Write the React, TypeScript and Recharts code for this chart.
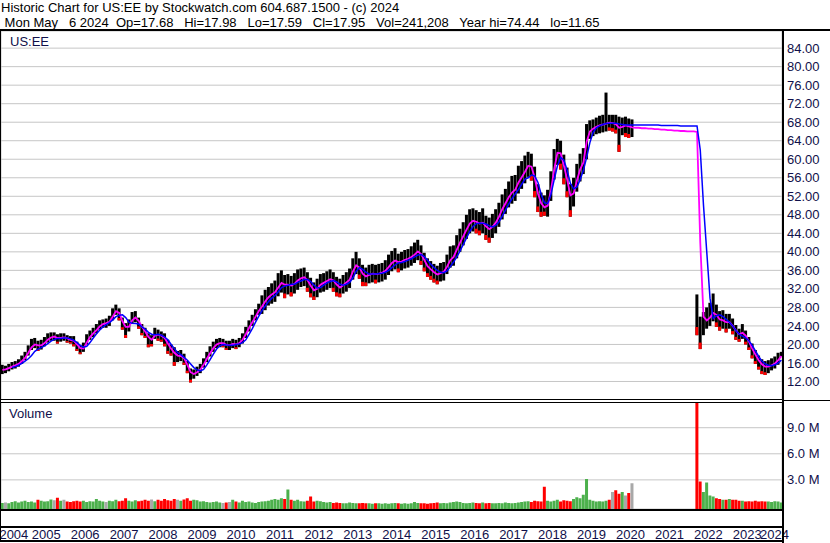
import React from 'react'
import { ComposedChart, Bar, Line, XAxis, YAxis, CartesianGrid, Cell } from 'recharts'

const FONT = '"Liberation Sans", Arial, Helvetica, sans-serif'
const INK = '#10104a'
const GRID = '#c6c6c6'

// monthly bars, first row starts May 2004, one row per calendar year
// (no trading from Aug 2020 to Feb 2022)
const START_YEAR = 2004
const START_MONTH = 5

const high: (number | null)[][] = [
  [15.6, 15.4, 15.8, 16.2, 16.4, 16.8, 17.6, 18.4],
  [19.8, 21.2, 21.4, 20.8, 21.0, 21.6, 22.4, 22.6, 22.6, 22.2, 22.4, 22.4],
  [22.0, 21.8, 21.8, 20.6, 19.8, 20.4, 22.2, 23.0, 23.6, 24.4, 25.2, 25.4],
  [25.6, 26.2, 27.8, 28.6, 27.8, 25.8, 24.6, 25.4, 27.0, 27.2, 25.8, 24.4],
  [23.6, 22.4, 22.0, 23.6, 23.2, 22.8, 22.4, 21.0, 20.0, 19.4, 18.6, 18.8],
  [18.0, 16.4, 14.8, 14.6, 15.2, 15.8, 17.0, 18.4, 19.6, 20.6, 21.2, 21.4],
  [21.2, 20.8, 20.8, 21.2, 21.0, 21.4, 22.4, 23.8, 25.2, 26.4, 27.6, 28.8],
  [30.6, 31.8, 32.4, 33.2, 33.8, 35.4, 36.0, 35.0, 35.2, 34.8, 35.4, 36.2],
  [36.4, 36.6, 35.6, 34.4, 33.4, 34.2, 35.2, 35.4, 35.8, 36.2, 35.6, 34.6],
  [34.2, 35.0, 35.6, 36.4, 38.6, 40.0, 38.6, 37.2, 36.6, 37.2, 37.4, 37.2],
  [37.4, 37.6, 38.2, 39.4, 40.2, 40.8, 39.6, 40.0, 40.4, 40.6, 41.2, 42.0],
  [42.6, 41.4, 39.8, 38.6, 38.0, 37.4, 37.0, 37.6, 37.8, 39.4, 41.2, 41.4],
  [43.6, 45.0, 46.4, 48.0, 49.2, 49.4, 49.0, 48.6, 49.4, 47.8, 47.4, 48.2],
  [49.2, 50.6, 52.4, 53.6, 55.2, 56.4, 56.6, 58.6, 59.6, 60.8, 61.6, 61.2],
  [58.4, 54.6, 52.8, 52.2, 53.4, 57.4, 62.2, 64.4, 64.0, 61.0, 58.2, 54.6],
  [56.0, 59.0, 61.2, 62.4, 67.6, 68.4, 68.6, 69.0, 69.4, 69.6, 74.4, 69.6],
  [69.6, 69.6, 69.2, 69.0, 69.2, 68.8, 68.6, null, null, null, null, null],
  [null, null, null, null, null, null, null, null, null, null, null, null],
  [null, null, 30.8, 26.0, 27.0, 28.0, 29.0, 31.0, 28.6, 27.2, 27.4, 26.6],
  [26.6, 25.6, 24.2, 23.4, 24.4, 23.0, 21.6, 20.2, 18.8, 17.6, 16.8, 16.4],
  [16.6, 17.0, 17.4, 18.2, 18.4],
]

const low: (number | null)[][] = [
  [13.6, 13.8, 14.2, 14.6, 14.8, 15.2, 15.8, 16.6],
  [17.6, 18.8, 19.2, 18.6, 18.9, 19.6, 20.4, 20.8, 20.8, 20.2, 20.6, 20.8],
  [20.4, 20.2, 19.6, 18.6, 17.9, 18.4, 20.0, 21.0, 21.6, 22.4, 23.2, 23.6],
  [23.6, 24.0, 25.2, 26.4, 25.2, 23.2, 21.4, 22.8, 24.4, 24.8, 23.4, 22.0],
  [21.4, 19.4, 19.6, 21.2, 20.8, 20.6, 19.6, 18.0, 17.6, 15.4, 16.2, 16.4],
  [15.6, 13.8, 11.8, 12.6, 13.2, 13.8, 15.0, 16.2, 17.4, 18.4, 19.2, 19.4],
  [19.4, 18.8, 18.8, 19.2, 19.0, 19.4, 20.2, 21.4, 22.8, 24.0, 25.2, 26.4],
  [26.6, 27.4, 28.4, 28.8, 29.2, 30.4, 31.2, 30.0, 30.8, 30.4, 31.0, 31.8],
  [32.4, 32.6, 31.4, 30.2, 29.6, 30.2, 31.2, 31.4, 31.8, 32.2, 31.4, 30.4],
  [30.2, 31.0, 31.4, 32.2, 34.0, 35.2, 34.2, 32.6, 32.6, 33.2, 33.4, 33.2],
  [33.4, 33.6, 34.0, 35.0, 35.8, 36.2, 35.6, 36.0, 36.4, 36.6, 37.0, 37.6],
  [38.2, 37.2, 35.8, 34.6, 34.0, 33.4, 33.0, 33.6, 33.8, 35.2, 36.6, 37.0],
  [38.6, 40.0, 41.4, 42.8, 44.0, 44.4, 44.0, 43.6, 44.0, 42.6, 42.0, 43.0],
  [44.0, 45.4, 47.0, 48.2, 49.6, 50.4, 51.0, 52.6, 53.6, 54.8, 56.2, 55.4],
  [51.8, 48.6, 47.6, 47.8, 47.6, 51.0, 55.6, 58.8, 57.8, 54.6, 51.8, 47.6],
  [49.8, 53.0, 55.2, 56.8, 60.0, 64.4, 65.0, 65.4, 65.6, 65.8, 66.0, 66.2],
  [66.0, 65.6, 61.6, 65.2, 64.8, 64.6, 64.8, null, null, null, null, null],
  [null, null, null, null, null, null, null, null, null, null, null, null],
  [null, null, 22.0, 19.0, 22.0, 23.4, 24.0, 25.0, 23.8, 23.0, 23.4, 22.6],
  [23.4, 22.2, 21.0, 20.6, 21.2, 20.0, 18.8, 17.0, 15.8, 14.6, 13.6, 13.4],
  [13.8, 14.4, 14.8, 15.6, 17.4],
]

// short moving average (magenta)
const maFast: (number | null)[][] = [
  [14.5, 14.6, 14.9, 15.2, 15.5, 15.8, 16.4, 17.1],
  [18.2, 19.4, 20.0, 19.8, 19.8, 20.3, 21.0, 21.5, 21.7, 21.4, 21.4, 21.5],
  [21.3, 21.0, 20.8, 20.0, 19.2, 19.1, 20.4, 21.6, 22.4, 23.1, 23.9, 24.4],
  [24.6, 24.9, 26.0, 27.2, 26.8, 25.0, 23.8, 23.8, 25.2, 25.8, 25.1, 23.8],
  [22.8, 21.6, 21.0, 21.9, 22.1, 21.9, 21.4, 20.2, 19.1, 18.2, 17.6, 17.5],
  [17.0, 15.6, 14.0, 13.6, 14.0, 14.6, 15.6, 16.9, 18.1, 19.2, 20.0, 20.3],
  [20.3, 19.9, 19.8, 20.1, 20.0, 20.3, 21.0, 22.2, 23.6, 24.8, 26.0, 27.2],
  [28.2, 29.3, 30.2, 30.8, 31.3, 32.3, 33.3, 32.9, 32.9, 32.7, 33.1, 33.8],
  [34.3, 34.5, 33.9, 32.7, 31.7, 32.0, 32.9, 33.3, 33.7, 34.1, 33.8, 32.9],
  [32.3, 32.8, 33.4, 34.0, 35.8, 37.1, 36.6, 35.3, 34.7, 35.0, 35.3, 35.2],
  [35.3, 35.5, 35.9, 36.7, 37.6, 38.1, 37.8, 37.9, 38.3, 38.5, 38.9, 39.4],
  [40.1, 39.5, 38.2, 36.9, 36.2, 35.6, 35.1, 35.4, 35.7, 36.8, 38.2, 38.9],
  [40.5, 42.0, 43.4, 44.8, 46.1, 46.7, 46.5, 46.1, 46.3, 45.5, 44.9, 45.4],
  [46.3, 47.6, 49.2, 50.5, 51.8, 52.8, 53.4, 55.0, 56.1, 57.3, 58.6, 58.4],
  [56.0, 52.6, 50.5, 49.6, 50.0, 53.2, 57.8, 61.4, 61.3, 58.6, 55.6, 52.2],
  [52.6, 55.4, 57.8, 59.3, 63.8, 66.0, 66.6, 67.0, 67.3, 67.5, 67.7, 67.9],
  [67.8, 67.6, 66.8, 67.0, 67.3, 67.1, 66.9, 66.8, 66.8, 66.7, 66.7, 66.6],
  [66.6, 66.5, 66.5, 66.4, 66.4, 66.3, 66.3, 66.2, 66.2, 66.1, 66.1, 66.0],
  [66.0, 66.0, 65.9, 42.0, 26.0, 25.2, 25.8, 26.8, 26.4, 25.4, 25.2, 24.8],
  [24.8, 24.0, 23.0, 22.2, 22.5, 21.9, 20.6, 19.1, 17.8, 16.6, 15.7, 15.2],
  [15.2, 15.5, 15.9, 16.6, 17.5],
]

// long moving average (blue)
const maSlow: (number | null)[][] = [
  [null, null, null, 15.0, 15.2, 15.5, 15.9, 16.4],
  [16.9, 17.6, 18.5, 19.0, 19.3, 19.7, 20.2, 20.7, 21.1, 21.3, 21.3, 21.4],
  [21.4, 21.2, 20.9, 20.4, 19.8, 19.4, 19.6, 20.4, 21.4, 22.3, 23.1, 23.8],
  [24.3, 24.7, 25.3, 26.0, 26.3, 26.4, 25.8, 24.8, 24.6, 24.5, 24.4, 23.8],
  [23.3, 22.6, 22.2, 22.1, 22.2, 22.0, 21.6, 21.0, 20.0, 19.1, 18.2, 17.8],
  [17.2, 16.6, 15.8, 15.0, 14.5, 14.3, 14.6, 15.6, 16.7, 17.9, 19.0, 19.7],
  [20.0, 19.9, 19.8, 19.8, 20.0, 20.1, 20.4, 21.0, 22.2, 23.4, 24.8, 26.1],
  [27.3, 28.3, 29.3, 30.0, 30.6, 31.4, 32.3, 32.6, 32.8, 33.0, 33.0, 33.4],
  [33.7, 34.0, 34.0, 33.6, 32.8, 32.2, 32.3, 32.8, 33.3, 33.6, 33.8, 33.5],
  [33.0, 32.8, 33.0, 33.4, 34.4, 35.8, 36.6, 36.2, 35.6, 35.2, 35.2, 35.2],
  [35.3, 35.4, 35.6, 36.0, 36.6, 37.2, 37.6, 37.7, 37.9, 38.2, 38.5, 38.9],
  [39.3, 39.4, 39.0, 38.2, 37.3, 36.6, 36.0, 35.6, 35.5, 35.9, 36.8, 37.8],
  [38.9, 40.2, 41.6, 43.0, 44.4, 45.5, 46.1, 46.2, 46.2, 46.0, 45.6, 45.4],
  [45.7, 46.5, 47.7, 49.0, 50.3, 51.5, 52.5, 53.5, 54.6, 55.7, 56.0, 56.6],
  [56.4, 55.0, 52.4, 50.6, 50.4, 52.4, 55.6, 58.6, 60.4, 59.8, 57.6, 54.8],
  [53.6, 54.0, 55.6, 57.6, 60.4, 63.6, 65.8, 66.8, 67.2, 67.5, 67.7, 67.8],
  [67.8, 67.8, 67.6, 67.5, 67.4, 67.4, 67.4, 67.4, 67.4, 67.4, 67.4, 67.4],
  [67.4, 67.4, 67.4, 67.3, 67.3, 67.3, 67.3, 67.3, 67.3, 67.2, 67.2, 67.2],
  [67.2, 67.2, 67.2, 62.0, 50.0, 40.0, 30.0, 25.6, 26.2, 26.4, 26.0, 25.4],
  [24.8, 24.0, 23.0, 22.2, 21.8, 21.4, 20.8, 19.8, 18.6, 17.4, 16.4, 15.8],
  [15.5, 15.4, 15.6, 16.0, 16.6],
]

// volume, millions of shares
const volume: (number | null)[][] = [
  [0.35, 0.4, 0.3, 0.45, 0.55, 0.4, 0.5, 0.6],
  [0.45, 0.5, 0.4, 0.7, 0.6, 0.5, 0.55, 0.75, 0.65, 0.95, 0.6, 0.7],
  [0.5, 0.45, 0.55, 0.6, 0.5, 0.6, 0.45, 0.55, 0.5, 0.8, 0.6, 0.5],
  [0.45, 0.6, 0.55, 0.7, 0.55, 0.6, 0.9, 0.6, 0.5, 0.65, 0.55, 0.6],
  [0.7, 0.6, 0.75, 0.55, 0.7, 0.6, 0.8, 0.65, 0.6, 0.8, 0.7, 0.6],
  [0.75, 0.9, 0.6, 0.7, 0.65, 0.5, 0.55, 0.45, 0.4, 0.45, 0.5, 0.4],
  [0.35, 0.4, 0.45, 0.7, 0.5, 0.4, 0.6, 0.45, 0.5, 0.4, 0.35, 0.45],
  [0.5, 0.55, 0.6, 0.7, 0.8, 0.7, 0.9, 0.8, 1.9, 0.7, 0.6, 0.7],
  [0.55, 0.5, 0.6, 1.1, 0.5, 0.6, 0.55, 0.45, 0.4, 0.45, 0.35, 0.4],
  [0.35, 0.3, 0.3, 0.4, 0.35, 0.3, 0.3, 0.35, 0.3, 0.3, 0.25, 0.3],
  [0.3, 0.25, 0.3, 0.25, 0.3, 0.35, 0.3, 0.25, 0.3, 0.25, 0.3, 0.45],
  [0.35, 0.3, 0.3, 0.25, 0.3, 0.35, 0.4, 0.3, 0.35, 0.3, 0.4, 0.45],
  [0.5, 0.45, 0.35, 0.3, 0.35, 0.4, 0.35, 0.3, 0.4, 0.3, 0.35, 0.3],
  [0.3, 0.35, 0.3, 0.4, 0.35, 0.3, 0.35, 0.4, 0.45, 0.5, 0.55, 0.45],
  [0.6, 0.55, 0.5, 2.2, 0.6, 0.5, 0.6, 0.7, 0.5, 0.65, 0.6, 0.55],
  [0.8, 1.0, 0.9, 1.3, 3.1, 0.7, 0.6, 0.5, 0.55, 0.5, 0.6, 0.7],
  [1.6, 1.8, 1.4, 1.6, 1.2, 1.5, 2.6, null, null, null, null, null],
  [null, null, null, null, null, null, null, null, null, null, null, null],
  [null, null, 12.5, 2.8, 1.6, 2.7, 1.2, 1.1, 0.9, 0.8, 0.7, 0.7],
  [0.8, 0.7, 0.7, 0.6, 0.6, 0.5, 0.55, 0.5, 0.6, 0.5, 0.55, 0.5],
  [0.5, 0.45, 0.55, 0.5, 0.4],
]

const priceTicks = [12, 16, 20, 24, 28, 32, 36, 40, 44, 48, 52, 56, 60, 64, 68, 72, 76, 80, 84]
const volumeTicks = [3, 6, 9]
const yearBounds = [2005, 2006, 2007, 2008, 2009, 2010, 2011, 2012, 2013, 2014,
  2015, 2016, 2017, 2018, 2019, 2020, 2021, 2022, 2023, 2024]
const yearLabels = [2004, ...yearBounds]

const X_DOMAIN: [number, number] = [2004.34, 2024.39]
const PRICE_DOMAIN: [number, number] = [8, 87.7]
const VOL_DOMAIN: [number, number] = [-0.35, 11.9]

const hiList = high.flat()
const loList = low.flat()
const fastList = maFast.flat()
const slowList = maSlow.flat()
const volList = volume.flat()

const rows = hiList.map((hi, i) => {
  const m = START_MONTH - 1 + i
  const t = START_YEAR + Math.floor(m / 12) + ((m % 12) + 0.5) / 12
  const lo = loList[i]
  return {
    t,
    hi,
    lo,
    mid: hi == null || lo == null ? null : (hi + lo) / 2,
    fast: fastList[i],
    slow: slowList[i],
    vol: volList[i],
    down: false,
    volColor: '#4cb04c',
  }
})

// colour by direction against the last traded month
let lastMid: number | null = null
rows.forEach((r) => {
  if (r.mid == null) return
  if (lastMid != null) {
    const d = r.mid - lastMid
    r.down = d < 0
    r.volColor = Math.abs(d) < 0.15 ? '#a8a8a8' : d < 0 ? '#ff0000' : '#4cb04c'
  }
  lastMid = r.mid
})

// label each year in the middle of its visible band
const yearMids = yearLabels.map(
  (y) => (Math.max(y, X_DOMAIN[0]) + Math.min(y + 1, X_DOMAIN[1])) / 2
)

const PriceBar = (p: any) => {
  const { x, y, width, height, payload } = p
  if (y == null || height == null || isNaN(y) || isNaN(height)) return null
  const top = height < 0 ? y + height : y
  const h = Math.abs(height)
  return (
    <g>
      <rect x={x} y={top} width={width} height={h} fill="#000" />
      {payload.down && (
        <rect x={x} y={top + h * 0.8} width={width} height={h * 0.2} fill="#ff0000" />
      )}
    </g>
  )
}

const YearTick = (p: any) => (
  <text x={p.x} y={p.y} dy={12.5} textAnchor="middle" fill={INK} fontSize={13} fontFamily={FONT}>
    {Math.floor(p.payload.value)}
  </text>
)

const tickStyle = { fill: INK, fontSize: 13, fontFamily: FONT }

const rule = (left: number, top: number, width: number, height: number) => (
  <div style={{ position: 'absolute', left, top, width, height, background: '#000' }} />
)

export default function App() {
  return (
    <div
      style={{
        position: 'absolute',
        left: 0,
        top: 0,
        width: 830,
        height: 543,
        background: '#fff',
        overflow: 'hidden',
        fontFamily: FONT,
        fontSize: 13,
        color: '#000',
      }}
    >
      <div style={{ position: 'absolute', left: 0, top: 0 }}>
        <ComposedChart width={830} height={400} data={rows} margin={{ top: 31, right: 0, bottom: 0, left: 1 }}>
          <CartesianGrid stroke={GRID} strokeWidth={1} />
          <XAxis
            dataKey="t"
            type="number"
            domain={X_DOMAIN}
            allowDataOverflow
            ticks={yearBounds}
            interval={0}
            height={0}
            tick={false}
            axisLine={false}
            tickLine={false}
          />
          <YAxis
            orientation="right"
            width={48}
            domain={PRICE_DOMAIN}
            allowDataOverflow
            ticks={priceTicks}
            interval={0}
            tickFormatter={(v: number) => v.toFixed(2)}
            tick={tickStyle}
            tickSize={3}
            tickMargin={2}
            axisLine={false}
            tickLine={false}
          />
          <Bar
            dataKey={(d: any) => (d.hi == null ? null : [d.lo, d.hi])}
            barSize={3}
            shape={PriceBar}
            isAnimationActive={false}
          />
          <Line dataKey="fast" type="linear" stroke="#ff00ff" strokeWidth={1.8} dot={false} isAnimationActive={false} />
          <Line dataKey="slow" type="linear" stroke="#0000ff" strokeWidth={1.5} dot={false} isAnimationActive={false} />
        </ComposedChart>
      </div>

      <div style={{ position: 'absolute', left: 0, top: 0 }}>
        <ComposedChart width={830} height={543} data={rows} margin={{ top: 402.5, right: 0, bottom: 0, left: 1 }}>
          <CartesianGrid stroke={GRID} strokeWidth={1} />
          <XAxis
            dataKey="t"
            type="number"
            domain={X_DOMAIN}
            allowDataOverflow
            ticks={yearBounds}
            interval={0}
            height={17}
            tick={false}
            tickSize={17}
            axisLine={false}
            tickLine={{ stroke: '#000', strokeWidth: 2 }}
          />
          <XAxis
            xAxisId="yr"
            dataKey="t"
            type="number"
            domain={X_DOMAIN}
            allowDataOverflow
            ticks={yearMids}
            interval={0}
            height={17}
            tick={<YearTick />}
            tickSize={0}
            tickMargin={0}
            axisLine={false}
            tickLine={false}
          />
          <YAxis
            orientation="right"
            width={48}
            domain={VOL_DOMAIN}
            allowDataOverflow
            ticks={volumeTicks}
            interval={0}
            tickFormatter={(v: number) => v.toFixed(1) + ' M'}
            tick={tickStyle}
            tickSize={3}
            tickMargin={2}
            axisLine={false}
            tickLine={false}
          />
          <Bar
            dataKey={(d: any) => (d.vol == null ? null : [VOL_DOMAIN[0], d.vol])}
            barSize={3}
            isAnimationActive={false}
          >
            {rows.map((r, i) => (
              <Cell key={i} fill={r.volColor} />
            ))}
          </Bar>
        </ComposedChart>
      </div>

      {/* frame */}
      {rule(0, 29, 830, 2)}
      {rule(0, 29, 1, 513)}
      {rule(782, 29, 2, 514)}
      {rule(0, 399, 782, 1)}
      {rule(0, 402, 782, 1)}
      {rule(784, 400, 46, 1)}
      {rule(0, 509, 782, 2)}
      {rule(0, 526, 782, 2)}
      {rule(0, 540, 782, 2)}

      <div style={{ position: 'absolute', left: 1, top: 1.3, lineHeight: '13px', whiteSpace: 'pre' }}>
        Historic Chart for US:EE by Stockwatch.com 604.687.1500 - (c) 2024
      </div>
      <div style={{ position: 'absolute', left: 1, top: 15.7, lineHeight: '13px', whiteSpace: 'pre' }}>
        {' Mon May   6 2024  Op=17.68   Hi=17.98   Lo=17.59   Cl=17.95   Vol=241,208   Year hi=74.44   lo=11.65'}
      </div>
      <div style={{ position: 'absolute', left: 10, top: 35, lineHeight: '13px', color: INK }}>US:EE</div>
      <div style={{ position: 'absolute', left: 9, top: 407, lineHeight: '13px', color: INK }}>Volume</div>
    </div>
  )
}
